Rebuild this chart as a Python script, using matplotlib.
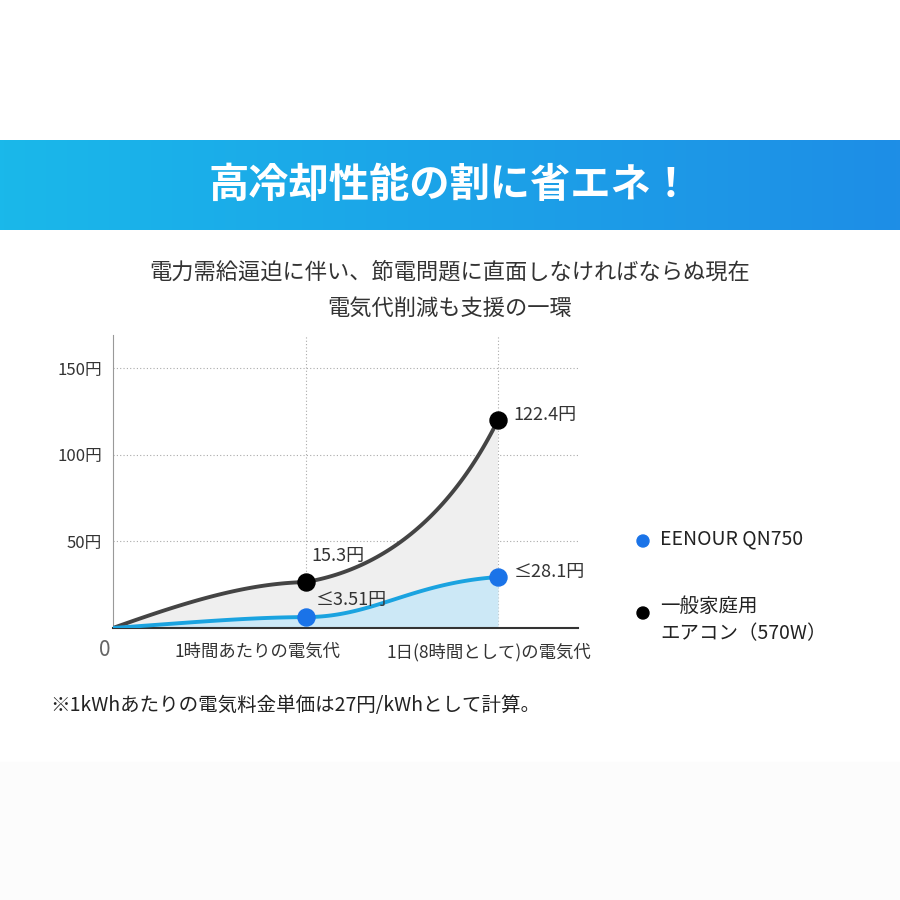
import numpy as np
import matplotlib
matplotlib.use("Agg")
import matplotlib.pyplot as plt
from matplotlib.patches import Rectangle

plt.rcParams['font.family'] = ['Noto Sans CJK JP', 'DejaVu Sans']

x_pts = [0, 1, 2]
aircon = [0, 26.5, 120.0]
eenour = [0, 6.3, 29.4]
aircon_labels = ["15.3円", "122.4円"]
eenour_labels = ["≤3.51円", "≤28.1円"]
yticks = [50, 100, 150]
ytick_labels = ["50円", "100円", "150円"]
cat_labels = ["1時間あたりの電気代", "1日(8時間として)の電気代"]

fig = plt.figure(figsize=(9, 9), dpi=100)
fig.patch.set_facecolor("white")

# banner gradient
bax = fig.add_axes([0, 1 - 230/900, 1, 90/900])
grad = np.linspace(0, 1, 256).reshape(1, -1)
from matplotlib.colors import LinearSegmentedColormap
cm = LinearSegmentedColormap.from_list("b", ["#1ab8ea", "#1e8ee6"])
bax.imshow(grad, aspect="auto", cmap=cm, extent=[0, 1, 0, 1])
bax.axis("off")
bax.text(0.5, 0.5, "高冷却性能の割に省エネ！", color="white", fontsize=29,
         fontweight="bold", ha="center", va="center", transform=bax.transAxes)

fig.text(0.5, 1 - 272/900, "電力需給逼迫に伴い、節電問題に直面しなければならぬ現在",
         ha="center", va="center", fontsize=16, color="#333333")
fig.text(0.5, 1 - 308/900, "電気代削減も支援の一環", ha="center", va="center",
         fontsize=16, color="#333333")

ax = fig.add_axes([113/900, 1 - 628/900, 465/900, 293/900])
ax.set_xlim(0, 465/192.5)
ax.set_ylim(0, 150*293/260)

def bez(p0, p1, p2, p3, n=60):
    t = np.linspace(0, 1, n)[:, None]
    P = ((1-t)**3)*np.array(p0) + 3*((1-t)**2)*t*np.array(p1) + 3*(1-t)*t**2*np.array(p2) + t**3*np.array(p3)
    return P[:, 0], P[:, 1]

def curve(v, s):
    x1, y1 = bez((0, 0), (0.4, v[1]*s[0]), (0.7, v[1]*0.97), (1, v[1]))
    d = v[2]-v[1]
    x2, y2 = bez((1, v[1]), (s[1], v[1]+d*s[2]), (s[3], v[1]+d*s[4]), (2, v[2]))
    return np.concatenate([x1, x2[1:]]), np.concatenate([y1, y2[1:]])

gx, gy = curve(aircon, (0.6, 1.4, 0.08, 1.75, 0.4))
ex, ey = curve(eenour, (0.5, 1.35, 0.0, 1.55, 0.85))

ax.fill(np.concatenate([gx, ex[::-1]]), np.concatenate([gy, ey[::-1]]),
        color="#efefef", zorder=1, lw=0)
ax.fill_between(ex, 0, ey, color="#cce8f6", zorder=1, lw=0)
ax.plot(gx, gy, color="#444444", lw=2.8, zorder=3)
ax.plot(ex, ey, color="#1aa3e0", lw=2.8, zorder=3)

for y in yticks:
    ax.axhline(y, color="#aaaaaa", lw=0.8, ls=(0, (1, 2)), zorder=0)
for xv in x_pts[1:]:
    ax.axvline(xv, color="#aaaaaa", lw=0.8, ls=(0, (1, 2)), zorder=0)

ax.scatter(x_pts[1:], aircon[1:], s=150, color="black", zorder=5)
ax.scatter(x_pts[1:], eenour[1:], s=150, color="#1a73e8", zorder=5)

ax.text(1.03, aircon[1]+15, aircon_labels[0], fontsize=13, color="#333333", va="center")
ax.text(2.08, aircon[2]+3, aircon_labels[1], fontsize=13, color="#333333", va="center")
ax.text(1.05, eenour[1]+10, eenour_labels[0], fontsize=13, color="#333333", va="center")
ax.text(2.08, eenour[2]+3, eenour_labels[1], fontsize=13, color="#333333", va="center")

ax.set_yticks(yticks)
ax.set_yticklabels(ytick_labels, fontsize=12, color="#333333")
ax.set_xticks([])
ax.tick_params(axis="y", length=0, pad=8)
for s in ["top", "right"]:
    ax.spines[s].set_visible(False)
ax.spines["left"].set_color("#999999")
ax.spines["bottom"].set_color("#333333")
ax.spines["bottom"].set_linewidth(1.5)

fig.text(105/900, 1 - 650/900, "0", fontsize=15, color="#666666", ha="center", va="center")
fig.text(258/900, 1 - 652/900, cat_labels[0], fontsize=12.5, color="#333333", ha="center", va="center")
fig.text(489/900, 1 - 652/900, cat_labels[1], fontsize=12.5, color="#333333", ha="center", va="center")

# legend
fig.add_artist(plt.Circle((643/900, 1 - 541/900), 6/900, color="#1a73e8", transform=fig.transFigure))
fig.text(660/900, 1 - 539/900, "EENOUR QN750", fontsize=14, color="#222222", va="center")
fig.add_artist(plt.Circle((643/900, 1 - 613/900), 6/900, color="black", transform=fig.transFigure))
fig.text(660/900, 1 - 606/900, "一般家庭用", fontsize=14, color="#222222", va="center")
fig.text(660/900, 1 - 634/900, "エアコン（570W）", fontsize=14, color="#222222", va="center")

fig.text(50/900, 1 - 705/900, "※1kWhあたりの電気料金単価は27円/kWhとして計算。",
         fontsize=14, color="#222222", va="center")
fig.add_artist(Rectangle((0, 0), 1, 1 - 762/900, color="#fcfcfc", transform=fig.transFigure, zorder=-1))

fig.savefig("out.png", dpi=100)
